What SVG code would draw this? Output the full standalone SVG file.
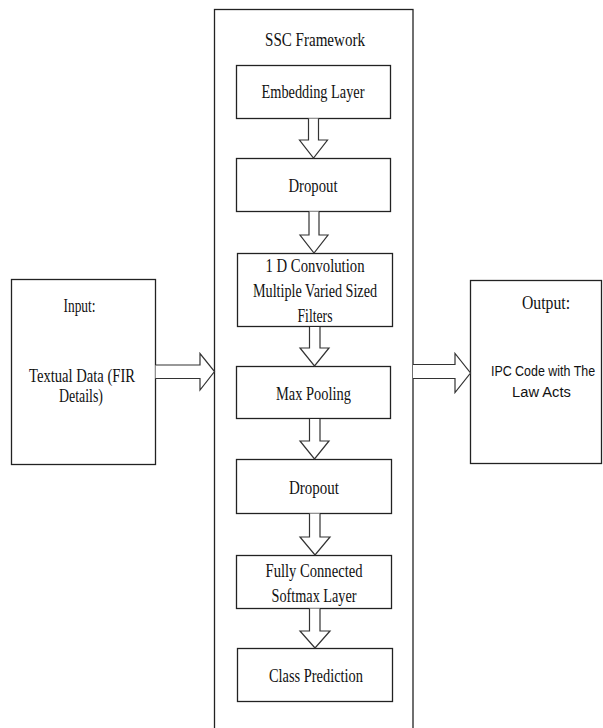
<svg xmlns="http://www.w3.org/2000/svg" width="603" height="728" viewBox="0 0 603 728">
<style>
.box{fill:#fff;stroke:#222;stroke-width:1.3}
.arr{fill:#fff;stroke:#333;stroke-width:1.2;stroke-linejoin:miter}
.t{font-family:"Liberation Serif","Times New Roman",serif;font-size:19.5px;fill:#111;text-anchor:middle}
.s{font-family:"Liberation Sans",Arial,sans-serif;font-size:15px;fill:#111;text-anchor:middle}
</style>
<rect width="603" height="728" fill="#fff"/>
<g id="framework">
<rect class="box" x="214.5" y="9.5" width="198.5" height="730"/>
<text class="t" x="315" y="46" textLength="100" lengthAdjust="spacingAndGlyphs">SSC Framework</text>
</g>
<g id="embedding">
<rect class="box" x="236.5" y="65.5" width="154" height="53"/>
<text class="t" x="313" y="98" textLength="103" lengthAdjust="spacingAndGlyphs">Embedding Layer</text>
</g>
<g id="dropout1">
<rect class="box" x="236.5" y="158.5" width="154" height="53"/>
<text class="t" x="313" y="192" textLength="49" lengthAdjust="spacingAndGlyphs">Dropout</text>
</g>
<g id="conv">
<rect class="box" x="237.5" y="253.5" width="155" height="73"/>
<text class="t" x="315" y="271.5" textLength="99" lengthAdjust="spacingAndGlyphs">1 D Convolution</text>
<text class="t" x="315" y="296.5" textLength="124" lengthAdjust="spacingAndGlyphs">Multiple Varied Sized</text>
<text class="t" x="315" y="321.5" textLength="35" lengthAdjust="spacingAndGlyphs">Filters</text>
</g>
<g id="maxpool">
<rect class="box" x="236.5" y="366.5" width="154" height="52"/>
<text class="t" x="313.5" y="400" textLength="75" lengthAdjust="spacingAndGlyphs">Max Pooling</text>
</g>
<g id="dropout2">
<rect class="box" x="236.5" y="459.5" width="155" height="54"/>
<text class="t" x="314" y="493.5" textLength="50" lengthAdjust="spacingAndGlyphs">Dropout</text>
</g>
<g id="fc">
<rect class="box" x="236.5" y="555.5" width="155" height="53"/>
<text class="t" x="314" y="576.5" textLength="97" lengthAdjust="spacingAndGlyphs">Fully Connected</text>
<text class="t" x="314" y="601.5" textLength="85" lengthAdjust="spacingAndGlyphs">Softmax Layer</text>
</g>
<g id="classpred">
<rect class="box" x="237.5" y="648.5" width="155" height="53"/>
<text class="t" x="316" y="681.5" textLength="94" lengthAdjust="spacingAndGlyphs">Class Prediction</text>
</g>
<g id="input">
<rect class="box" x="11.5" y="279.5" width="144" height="185"/>
<text class="t" x="79.5" y="311.5" textLength="32" lengthAdjust="spacingAndGlyphs">Input:</text>
<text class="t" x="82" y="381.5" textLength="106" lengthAdjust="spacingAndGlyphs">Textual Data (FIR</text>
<text class="t" x="81" y="401.5" textLength="44" lengthAdjust="spacingAndGlyphs">Details)</text>
</g>
<g id="output">
<rect class="box" x="470.5" y="280.5" width="131" height="183"/>
<text class="t" x="546" y="309" textLength="48" lengthAdjust="spacingAndGlyphs">Output:</text>
<text class="s" transform="translate(543 376) scale(0.83 1)" x="0" y="0">IPC Code with The</text>
<text class="s" transform="translate(541.5 397) scale(0.98 1)" x="0" y="0">Law Acts</text>
</g>
<g id="connectors">
<path class="arr" d="M308.5,118.5 V140 H299.5 L313.5,158 L327.5,140 H318.5 V118.5"/>
<path class="arr" d="M309,211.5 V235 H300 L314,253 L328,235 H319 V211.5"/>
<path class="arr" d="M309.5,327 V348 H300 L314.5,366 L329,348 H320 V327"/>
<path class="arr" d="M309.5,419 V441 H300 L314.5,459 L329,441 H320 V419"/>
<path class="arr" d="M309.5,513.5 V537 H300 L315,555 L330,537 H320 V513.5"/>
<path class="arr" d="M309.5,608.5 V631 H300 L315,648 L330,631 H320 V608.5"/>
<path class="arr" d="M155.5,365 H200 V353.5 L214.5,371.5 L200,390 V378.5 H155.5"/>
<path class="arr" d="M413,364.5 H455 V353.5 L470.5,373 L455,392.5 V378.5 H413"/>
</g>
</svg>
